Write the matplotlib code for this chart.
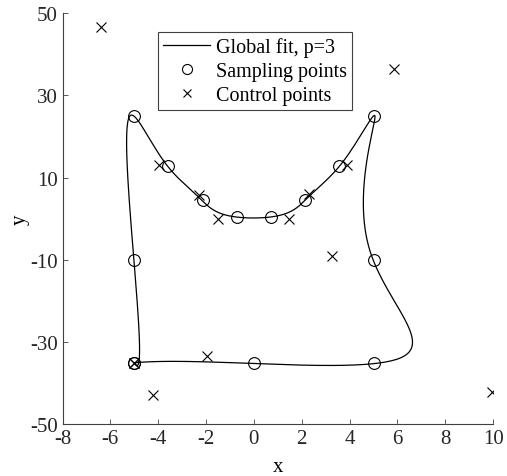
import numpy as np
import matplotlib
matplotlib.use("Agg")
import matplotlib.pyplot as plt

# Points d'échantillonnage (ordre du parcours de la courbe)
sample_x = [-5, 0, 5, 5, 5, 3.57, 2.14, 0.71, -0.71, -2.14, -3.57, -5, -5, -5]
sample_y = [-35, -35, -35, -10, 25, 12.76, 4.59, 0.51, 0.51, 4.59, 12.76, 25, -10, -35]

# Points de contrôle de la B-spline
ctrl_x = [-5, -1.97, 9.97, 3.28, 5.86, 3.91, 2.32, 1.47, -1.49, -2.31, -3.97, -6.39, -4.23, -5]
ctrl_y = [-35, -33.4, -42.1, -9.05, 36.4, 13.1, 6.0, 0.0, 0.0, 5.7, 13.1, 46.5, -42.9, -35]

p = 3  # degré


def basis(i, k, u, U):
    # fonctions de base (Cox-de Boor)
    if k == 0:
        if U[i] <= u < U[i + 1]:
            return 1.0
        if u == U[-1] and U[i] < u <= U[i + 1]:
            return 1.0
        return 0.0
    a = 0.0
    if U[i + k] != U[i]:
        a = (u - U[i]) / (U[i + k] - U[i]) * basis(i, k - 1, u, U)
    b = 0.0
    if U[i + k + 1] != U[i + 1]:
        b = (U[i + k + 1] - u) / (U[i + k + 1] - U[i + 1]) * basis(i + 1, k - 1, u, U)
    return a + b


# Paramétrisation centripète + vecteur de noeuds par moyennage
Q = np.column_stack([sample_x, sample_y])
n = len(Q) - 1
w = np.sqrt(np.linalg.norm(np.diff(Q, axis=0), axis=1))
uk = np.concatenate([[0], np.cumsum(w) / w.sum()])
U = np.concatenate([np.zeros(p + 1),
                    [uk[j:j + p].mean() for j in range(1, n - p + 1)],
                    np.ones(p + 1)])

# Évaluation de la courbe à partir des points de contrôle
P = np.column_stack([ctrl_x, ctrl_y])
t = np.linspace(0, 1, 800)
N = np.array([[basis(i, p, u, U) for i in range(n + 1)] for u in t])
curve = N @ P

plt.rcParams["font.family"] = ["Liberation Serif", "DejaVu Serif"]
plt.rcParams["font.size"] = 15
plt.rcParams["axes.unicode_minus"] = False

fig = plt.figure(figsize=(5.07, 4.77), dpi=100)
ax = fig.add_axes([0.1233, 0.108, 0.8494, 0.8626])

ax.plot(curve[:, 0], curve[:, 1], color="black", lw=0.9, label="Global fit, p=3")
ax.plot(sample_x, sample_y, "o", mfc="none", mec="black", ms=8.5, mew=0.8,
        label="Sampling points")
ax.plot(ctrl_x, ctrl_y, "x", color="black", ms=6.5, mew=0.8, label="Control points")

ax.set_xlim(-8, 10)
ax.set_ylim(-50, 50)
ax.set_xticks(np.arange(-8, 11, 2))
ax.set_yticks(np.arange(-50, 51, 20))
ax.set_xlabel("x", labelpad=6)
ax.set_ylabel("y", labelpad=0)
for s in ["top", "right"]:
    ax.spines[s].set_visible(False)
for s in ["left", "bottom"]:
    ax.spines[s].set_color("#404040")
    ax.spines[s].set_linewidth(0.8)
ax.tick_params(direction="in", length=3.5, width=0.6, color="#404040",
               labelcolor="#262626")

leg = ax.legend(loc="upper left", bbox_to_anchor=(0.2225, 0.954), borderaxespad=0,
                fancybox=False, edgecolor="#404040", framealpha=1, fontsize=14.5,
                handlelength=2.3, handletextpad=0.3, borderpad=0.25,
                labelspacing=0.25, markerscale=0.85)
leg.get_frame().set_linewidth(0.8)

fig.savefig("out.png", dpi=100)
